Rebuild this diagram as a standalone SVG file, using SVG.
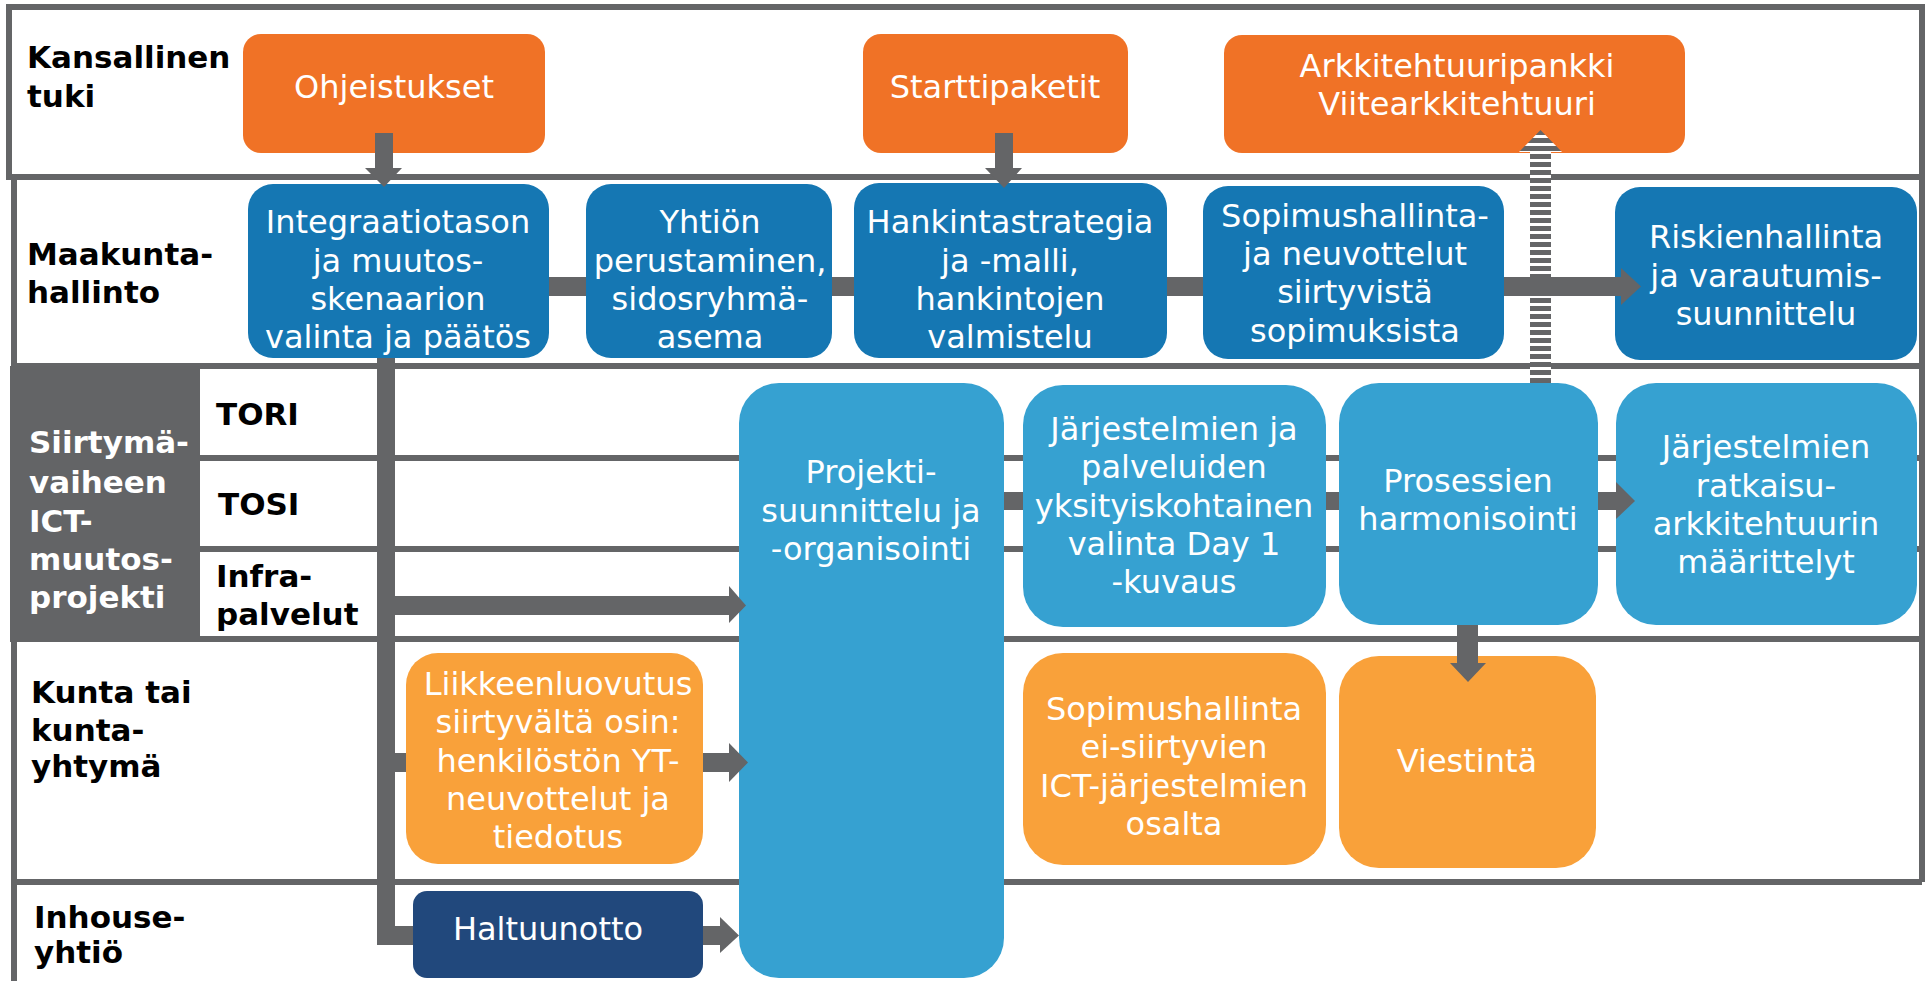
<svg xmlns="http://www.w3.org/2000/svg" width="1927" height="981" viewBox="0 0 1927 981">
<style>
.ln{stroke:#646567;stroke-width:6;fill:none}
.c{fill:#646567}
.lbl{font-family:"DejaVu Sans",Verdana,sans-serif;font-weight:bold;font-size:31px;fill:#000}
.lblw{font-family:"DejaVu Sans",Verdana,sans-serif;font-weight:bold;font-size:31px;fill:#fff}
.t{font-family:"DejaVu Sans",Verdana,sans-serif;font-size:32px;fill:#fff;text-anchor:middle}
.or{fill:#F07226}
.bl{fill:#1577B3}
.lb{fill:#36A1D1}
.lo{fill:#F9A13A}
.nv{fill:#21487C}
</style>
<defs>
<pattern id="stripes" patternUnits="userSpaceOnUse" x="0" y="2" width="20" height="8">
<rect width="20" height="8" fill="#ffffff"/>
<rect width="20" height="5" fill="#646567"/>
</pattern>
</defs>
<rect width="1927" height="981" fill="#ffffff"/>
<g id="frame">
<rect class="ln" x="9" y="7" width="1913" height="170"/>
<line class="ln" x1="14" y1="177" x2="14" y2="981"/>
<line class="ln" x1="1922" y1="177" x2="1922" y2="882"/>
<line class="ln" x1="11" y1="366" x2="1922" y2="366"/>
<line class="ln" x1="200" y1="458" x2="1922" y2="458"/>
<line class="ln" x1="200" y1="549" x2="1922" y2="549"/>
<line class="ln" x1="11" y1="639" x2="1922" y2="639"/>
<line class="ln" x1="11" y1="882" x2="1922" y2="882"/>
<rect x="10" y="366" width="190" height="276" fill="#636466"/>
</g>
<g id="labels">
<text class="lbl"><tspan x="27" y="68">Kansallinen</tspan><tspan x="27" y="107">tuki</tspan></text>
<text class="lbl"><tspan x="27" y="265">Maakunta-</tspan><tspan x="27" y="303">hallinto</tspan></text>
<text class="lblw"><tspan x="29" y="453">Siirtymä-</tspan><tspan x="29" y="493">vaiheen</tspan><tspan x="29" y="532">ICT-</tspan><tspan x="29" y="570">muutos-</tspan><tspan x="29" y="608">projekti</tspan></text>
<text class="lbl" x="216" y="425">TORI</text>
<text class="lbl" x="218" y="515">TOSI</text>
<text class="lbl"><tspan x="216" y="587">Infra-</tspan><tspan x="216" y="625">palvelut</tspan></text>
<text class="lbl"><tspan x="31" y="703">Kunta tai</tspan><tspan x="31" y="741">kunta-</tspan><tspan x="31" y="777">yhtymä</tspan></text>
<text class="lbl"><tspan x="34" y="928">Inhouse-</tspan><tspan x="34" y="963">yhtiö</tspan></text>
</g>
<g id="n-ohjeistukset"><rect class="or" x="243" y="34" width="302" height="119" rx="18"/><text class="t" x="394" y="98">Ohjeistukset</text></g>
<g id="n-starttipaketit"><rect class="or" x="863" y="34" width="265" height="119" rx="18"/><text class="t" x="995" y="98">Starttipaketit</text></g>
<g id="n-arkkitehtuuri"><rect class="or" x="1224" y="35" width="461" height="118" rx="18"/><text class="t"><tspan x="1457" y="77">Arkkitehtuuripankki</tspan><tspan x="1457" y="115">Viitearkkitehtuuri</tspan></text></g>
<g id="n-integraatio"><rect class="bl" x="248" y="184" width="301" height="174" rx="25"/><text class="t"><tspan x="398" y="233">Integraatiotason</tspan><tspan x="398" y="272">ja muutos-</tspan><tspan x="398" y="310">skenaarion</tspan><tspan x="398" y="348">valinta ja päätös</tspan></text></g>
<g id="n-yhtio"><rect class="bl" x="586" y="184" width="246" height="174" rx="25"/><text class="t"><tspan x="710" y="233">Yhtiön</tspan><tspan x="710" y="272">perustaminen,</tspan><tspan x="710" y="310">sidosryhmä-</tspan><tspan x="710" y="348">asema</tspan></text></g>
<g id="n-hankinta"><rect class="bl" x="854" y="183" width="313" height="175" rx="25"/><text class="t"><tspan x="1010" y="233">Hankintastrategia</tspan><tspan x="1010" y="272">ja -malli,</tspan><tspan x="1010" y="310">hankintojen</tspan><tspan x="1010" y="348">valmistelu</tspan></text></g>
<g id="n-sopimus"><rect class="bl" x="1203" y="186" width="301" height="173" rx="25"/><text class="t"><tspan x="1355" y="227">Sopimushallinta-</tspan><tspan x="1355" y="265">ja neuvottelut</tspan><tspan x="1355" y="303">siirtyvistä</tspan><tspan x="1355" y="342">sopimuksista</tspan></text></g>
<g id="n-riski"><rect class="bl" x="1615" y="187" width="302" height="173" rx="25"/><text class="t"><tspan x="1766" y="248">Riskienhallinta</tspan><tspan x="1766" y="287">ja varautumis-</tspan><tspan x="1766" y="325">suunnittelu</tspan></text></g>
<g id="n-projekti"><rect class="lb" x="739" y="383" width="265" height="595" rx="40"/><text class="t"><tspan x="871" y="483">Projekti-</tspan><tspan x="871" y="522">suunnittelu ja</tspan><tspan x="871" y="560">-organisointi</tspan></text></g>
<g id="n-jarjestelmat"><rect class="lb" x="1023" y="385" width="303" height="242" rx="40"/><text class="t"><tspan x="1174" y="440">Järjestelmien ja</tspan><tspan x="1174" y="478">palveluiden</tspan><tspan x="1174" y="517">yksityiskohtainen</tspan><tspan x="1174" y="555">valinta Day 1</tspan><tspan x="1174" y="593">-kuvaus</tspan></text></g>
<g id="n-prosessit"><rect class="lb" x="1339" y="383" width="259" height="242" rx="40"/><text class="t"><tspan x="1468" y="492">Prosessien</tspan><tspan x="1468" y="530">harmonisointi</tspan></text></g>
<g id="n-ratkaisu"><rect class="lb" x="1616" y="383" width="301" height="242" rx="40"/><text class="t"><tspan x="1766" y="458">Järjestelmien</tspan><tspan x="1766" y="497">ratkaisu-</tspan><tspan x="1766" y="535">arkkitehtuurin</tspan><tspan x="1766" y="573">määrittelyt</tspan></text></g>
<g id="n-liikkeenluovutus"><rect class="lo" x="406" y="653" width="297" height="211" rx="32"/><text class="t"><tspan x="558" y="695">Liikkeenluovutus</tspan><tspan x="558" y="733">siirtyvältä osin:</tspan><tspan x="558" y="772">henkilöstön YT-</tspan><tspan x="558" y="810">neuvottelut ja</tspan><tspan x="558" y="848">tiedotus</tspan></text></g>
<g id="n-sopimus-ei"><rect class="lo" x="1023" y="653" width="303" height="212" rx="40"/><text class="t"><tspan x="1174" y="720">Sopimushallinta</tspan><tspan x="1174" y="758">ei-siirtyvien</tspan><tspan x="1174" y="797">ICT-järjestelmien</tspan><tspan x="1174" y="835">osalta</tspan></text></g>
<g id="n-viestinta"><rect class="lo" x="1339" y="656" width="257" height="212" rx="40"/><text class="t" x="1467" y="772">Viestintä</text></g>
<g id="n-haltuunotto"><rect class="nv" x="413" y="891" width="290" height="87" rx="14"/><text class="t" x="548" y="940">Haltuunotto</text></g>
<g id="connectors">
<rect class="c" x="375" y="133" width="18" height="37"/><polygon class="c" points="365,168 402,168 384,187"/>
<rect class="c" x="995" y="133" width="18" height="37"/><polygon class="c" points="985,168 1022,168 1004,188"/>
<path fill="url(#stripes)" d="M1530,383 V152 H1519 L1540.5,130 L1562,152 H1551 V383 Z"/>
<rect class="c" x="549" y="277" width="37" height="19"/>
<rect class="c" x="832" y="277" width="22" height="19"/>
<rect class="c" x="1167" y="277" width="36" height="19"/>
<rect class="c" x="1504" y="277" width="117" height="19"/>
<polygon class="c" points="1621,268 1641,286.5 1621,305"/>
<rect class="c" x="377" y="358" width="18" height="587"/>
<rect class="c" x="377" y="926" width="36" height="19"/>
<rect class="c" x="395" y="596" width="334" height="19"/>
<polygon class="c" points="729,586 746,605.5 729,623"/>
<rect class="c" x="395" y="753" width="11" height="19"/>
<rect class="c" x="703" y="753" width="26" height="19"/>
<polygon class="c" points="729,743 748,762.5 729,782"/>
<rect class="c" x="703" y="926" width="18" height="19"/>
<polygon class="c" points="720,917 739,935.5 720,953"/>
<rect class="c" x="1004" y="492" width="19" height="18"/>
<rect class="c" x="1326" y="492" width="13" height="18"/>
<rect class="c" x="1598" y="492" width="18" height="18"/>
<polygon class="c" points="1616,482 1635,501 1616,519"/>
<rect class="c" x="1457" y="625" width="21" height="38"/>
<polygon class="c" points="1450,663 1486,663 1468,682"/>
</g>
</svg>
